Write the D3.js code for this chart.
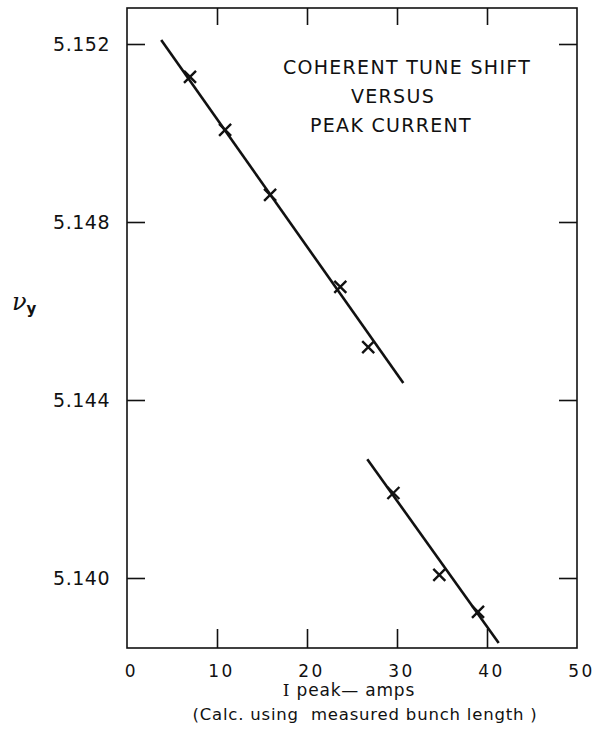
<!DOCTYPE html>
<html>
<head>
<meta charset="utf-8">
<script src="https://cdn.jsdelivr.net/npm/d3@7/dist/d3.min.js"></script>
<style>
  html, body { margin: 0; padding: 0; background: #fff; }
  svg { display: block; }
  text { font-family: "DejaVu Sans", sans-serif; fill: #111; }
</style>
</head>
<body>
<svg id="chart" width="598" height="745"></svg>
<script>
// ---- data ----
const currentAmps = [7.0, 10.9, 15.9, 23.7, 26.8, 29.6, 34.7, 39.0];
const tuneNuY     = [5.15126, 5.15007, 5.14861, 5.14654, 5.14519, 5.14191, 5.14007, 5.13924];
// fitted lines (two segments)
const fitUpperX = [3.8, 30.7];
const fitUpperY = [5.15209, 5.14438];
const fitLowerX = [26.7, 41.3];
const fitLowerY = [5.14267, 5.13854];
// ticks
const xTickValues = [0, 10, 20, 30, 40, 50];
const xInnerTicks = [10, 20, 30, 40];
const yTickValues = [5.140, 5.144, 5.148, 5.152];
const titleLines = ["COHERENT TUNE SHIFT", "VERSUS", "PEAK CURRENT"];
const xLabelHead = "I";
const xLabelTail = " peak\u2014 amps";
const xNote = "(Calc. using  measured bunch length )";

const svg = d3.select("#chart");
const mLeft = 127, mRight = 577, mTop = 8, mBottom = 648;

const x = d3.scaleLinear().domain([0, 50]).range([mLeft, mRight]);
const y = d3.scaleLinear().domain([5.138427, 5.152809]).range([mBottom, mTop]);

// frame
svg.append("rect")
  .attr("x", mLeft).attr("y", mTop)
  .attr("width", mRight - mLeft).attr("height", mBottom - mTop)
  .attr("fill", "none").attr("stroke", "#111").attr("stroke-width", 1.6);

// left axis (inward ticks + labels)
const gLeft = svg.append("g").attr("transform", `translate(${mLeft},0)`)
  .call(d3.axisLeft(y).tickValues(yTickValues).tickFormat(d3.format(".3f"))
    .tickSizeInner(-18).tickSizeOuter(0).tickPadding(17));
// right axis (inward ticks, no labels)
const gRight = svg.append("g").attr("transform", `translate(${mRight},0)`)
  .call(d3.axisRight(y).tickValues(yTickValues).tickFormat("")
    .tickSizeInner(-18).tickSizeOuter(0));
// bottom axis: inner ticks
const gBottom = svg.append("g").attr("transform", `translate(0,${mBottom})`)
  .call(d3.axisBottom(x).tickValues(xInnerTicks).tickFormat("")
    .tickSizeInner(-19).tickSizeOuter(0));
// bottom labels
const gBottomLab = svg.append("g").attr("transform", `translate(0,${mBottom})`)
  .call(d3.axisBottom(x).tickValues(xTickValues).tickFormat(d3.format("d"))
    .tickSize(0).tickPadding(17));
// top axis
const gTop = svg.append("g").attr("transform", `translate(0,${mTop})`)
  .call(d3.axisTop(x).tickValues(xInnerTicks).tickFormat("")
    .tickSizeInner(-17).tickSizeOuter(0));

[gLeft, gRight, gBottom, gBottomLab, gTop].forEach(g => {
  g.select(".domain").remove();
  g.selectAll(".tick line").attr("stroke", "#111").attr("stroke-width", 1.6);
  g.selectAll("text").attr("fill", "#111")
    .style("font-family", '"DejaVu Sans", sans-serif');
});
gLeft.selectAll("text").style("font-size", "19px").attr("letter-spacing", "0.5");
gBottomLab.selectAll("text").style("font-size", "17px").attr("letter-spacing", "2.5").attr("dx", "4");

// fitted lines
const line = d3.line().x(d => x(d[0])).y(d => y(d[1]));
[[fitUpperX, fitUpperY], [fitLowerX, fitLowerY]].forEach(([xs, ys]) => {
  svg.append("path")
    .datum(xs.map((v, i) => [v, ys[i]]))
    .attr("d", line)
    .attr("fill", "none").attr("stroke", "#111").attr("stroke-width", 2.6);
});

// crosses
const pts = currentAmps.map((v, i) => [v, tuneNuY[i]]);
const s = 6;
svg.append("g").selectAll("path.pt").data(pts).join("path")
  .attr("class", "pt")
  .attr("d", d => {
    const cx = x(d[0]), cy = y(d[1]);
    return `M${cx - s},${cy - s}L${cx + s},${cy + s}M${cx - s},${cy + s}L${cx + s},${cy - s}`;
  })
  .attr("fill", "none").attr("stroke", "#111").attr("stroke-width", 2.4);

// title
const titleCenters = [407, 393, 391];
const titleBaselines = [74, 103, 132];
svg.append("g").selectAll("text").data(titleLines).join("text")
  .attr("x", (d, i) => titleCenters[i])
  .attr("y", (d, i) => titleBaselines[i])
  .attr("text-anchor", "middle")
  .style("font-size", "19px")
  .attr("letter-spacing", "1.3")
  .text(d => d);

// y label  nu_y
const yl = svg.append("text").attr("x", 12).attr("y", 310);
yl.append("tspan").style("font-family", '"DejaVu Serif", serif')
  .style("font-style", "italic").style("font-size", "24px").text("\u03BD");
yl.append("tspan").attr("dy", 4).style("font-size", "15px")
  .style("font-weight", "bold").text("y");

// x labels
const xl = svg.append("text").attr("x", 349).attr("y", 696).attr("text-anchor", "middle")
  .style("font-size", "17px").attr("letter-spacing", "0.8").attr("xml:space", "preserve");
xl.append("tspan").style("font-family", '"DejaVu Serif", serif').text(xLabelHead);
xl.append("tspan").text(xLabelTail);
svg.append("text").attr("x", 365).attr("y", 720).attr("text-anchor", "middle")
  .style("font-size", "16.5px").attr("letter-spacing", "0.8")
  .attr("xml:space", "preserve").style("white-space", "pre").text(xNote);
</script>
</body>
</html>
